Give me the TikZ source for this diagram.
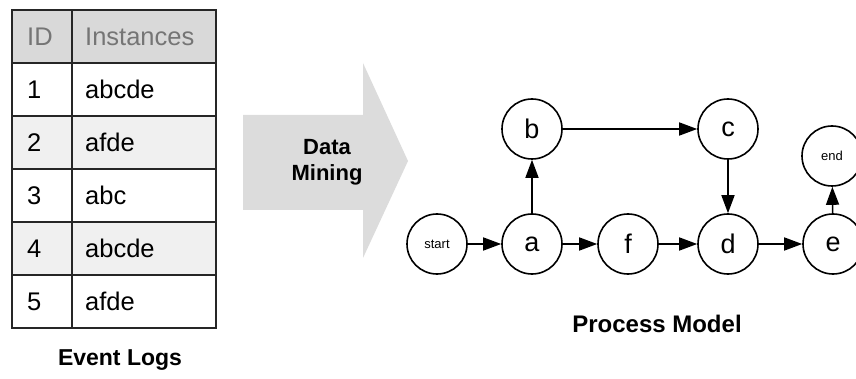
\documentclass[tikz,border=0pt]{standalone}
\usepackage{fontspec}
\setmainfont{Liberation Sans}
\usetikzlibrary{arrows.meta,math}

\definecolor{headgray}{HTML}{D9D9D9}
\definecolor{rowgray}{HTML}{F0F0F0}
\definecolor{headtext}{HTML}{757575}
\definecolor{arrowgray}{HTML}{DCDCDC}

\tikzset{
    tableline/.style={draw=black!85, line width=1.6pt},
    celltext/.style={anchor=west, inner sep=0pt, font=\fontsize{25.5}{28}\selectfont},
    activity/.style={draw, circle, line width=1.6pt, minimum size=60pt, inner sep=0pt,
        fill=white, font=\fontsize{27}{30}\selectfont},
    terminal/.style={activity, font=\fontsize{13}{15}\selectfont},
    flow/.style={line width=1.6pt, -{Triangle[length=18pt,width=13pt]}},
    caption/.style={font=\bfseries\fontsize{22}{26}\selectfont, align=center},
}

\begin{document}
\begin{tikzpicture}[
    x=1pt,
    y=-1pt,
  ]

  \useasboundingbox (0,0) rectangle (856,379);

  \tikzmath{
    \tabx = 12;  % left edge of the table
    \colx = 72;  % column divider
    \tabr = 216; % right edge of the table
    \taby = 10;  % top edge of the table
    \rowh = 53;  % height of one row
  }

  % ---------
  % Event log
  % ---------

  % header row
  \draw[tableline, fill=headgray] (\tabx,\taby) rectangle (\tabr,\taby+\rowh);
  \node[celltext, text=headtext] (hid)   at (\tabx+15, \taby+0.5*\rowh) {ID};
  \node[celltext, text=headtext] (hinst) at (\colx+13, \taby+0.5*\rowh) {Instances};

  % one row per trace
  \foreach \id/\trace/\shade [count=\i] in {1/abcde/white, 2/afde/rowgray, 3/abc/white, 4/abcde/rowgray, 5/afde/white} {
    \draw[tableline, fill=\shade] (\tabx,\taby+\i*\rowh) rectangle (\tabr,\taby+\i*\rowh+\rowh);
    \node[celltext] (id\i)   at (\tabx+15, \taby+\i*\rowh+0.5*\rowh) {\id};
    \node[celltext] (inst\i) at (\colx+13, \taby+\i*\rowh+0.5*\rowh) {\trace};
  }
  \draw[tableline] (\colx,\taby) -- (\colx,\taby+6*\rowh);

  \node[caption, font=\bfseries\fontsize{23}{26}\selectfont] (logs) at (120,360) {Event Logs};

  % ---------------
  % Big grey arrow
  % ---------------

  \fill[arrowgray] (243,115) -- (363,115) -- (363,63) -- (408,161)
    -- (363,258) -- (363,210) -- (243,210) -- cycle;
  \node[caption] (mining) at (327,162) {Data\\Mining};

  % -------------
  % Process model
  % -------------

  \node[terminal] (start) at (437,244) {start};
  \node[activity] (a)     at (532,244) {a};
  \node[activity] (f)     at (628,244) {f};
  \node[activity] (d)     at (728,244) {d};
  \node[activity] (e)     at (833,244) {e};
  \node[activity] (b)     at (532,129) {b};
  \node[activity] (c)     at (728,129) {c};
  \node[terminal] (end)   at (832,156) {end};

  \draw[flow] (start) -- (a);
  \draw[flow] (a) -- (f);
  \draw[flow] (f) -- (d);
  \draw[flow] (d) -- (e);
  \draw[flow] (a) -- (b);
  \draw[flow] (b) -- (c);
  \draw[flow] (c) -- (d);
  \draw[flow] (e) -- (end);

  \node[caption, font=\bfseries\fontsize{24}{26}\selectfont] (model) at (657,324) {Process Model};

\end{tikzpicture}
\end{document}
